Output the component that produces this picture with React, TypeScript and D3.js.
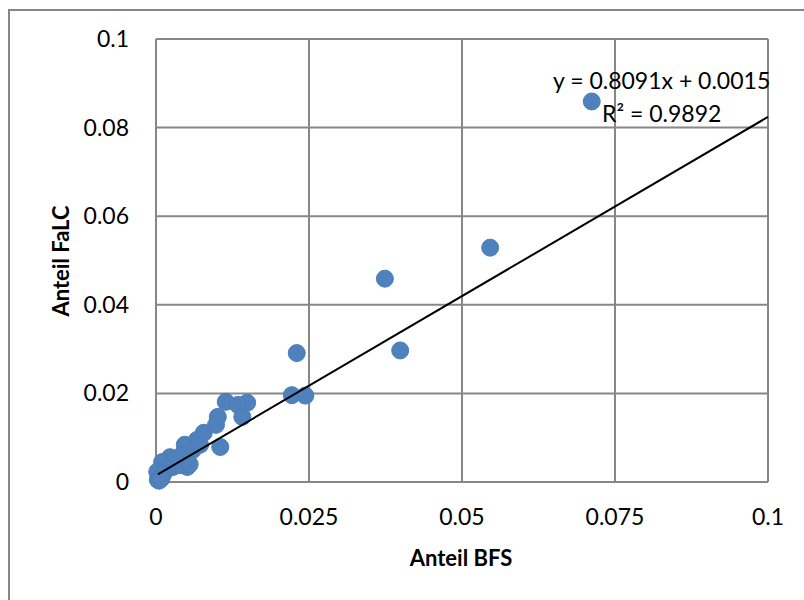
import React from "react";
import * as d3 from "d3";

const bfs = [
  0.0712, 0.0546, 0.0374, 0.0399, 0.0230, 0.0222, 0.0244,
  0.0114, 0.0149, 0.0134, 0.0141, 0.0101, 0.0098, 0.0078, 0.0105, 0.0067,
  0.0047, 0.0060, 0.0051, 0.0023, 0.0010, 0.0028, 0.0003, 0.0002, 0.0007,
  0.0015, 0.0036, 0.0042, 0.0072, 0.0039, 0.0055, 0.0031, 0.0019, 0.0012,
  0.0005, 0.0009,
];
const falc = [
  0.0859, 0.0529, 0.0459, 0.0297, 0.0291, 0.0196, 0.0195,
  0.0181, 0.0179, 0.0174, 0.0147, 0.0147, 0.0129, 0.0111, 0.0079, 0.0095,
  0.0084, 0.0072, 0.0034, 0.0056, 0.0045, 0.0034, 0.0005, 0.0023, 0.0011,
  0.0027, 0.0045, 0.0061, 0.0084, 0.0038, 0.0040, 0.0050, 0.0030, 0.0018,
  0.0003, 0.0008,
];
const xTicks = [0, 0.025, 0.05, 0.075, 0.1];
const xTickLabels = ["0", "0.025", "0.05", "0.075", "0.1"];
const yTicks = [0, 0.02, 0.04, 0.06, 0.08, 0.1];
const yTickLabels = ["0", "0.02", "0.04", "0.06", "0.08", "0.1"];
const slope = 0.8091;
const intercept = 0.0015;
const eqLabel = "y = 0.8091x + 0.0015";
const r2Label = "R² = 0.9892";
const xTitle = "Anteil BFS";
const yTitle = "Anteil FaLC";

export default function App() {
  const x = d3.scaleLinear().domain([0, 0.1]).range([156, 768]);
  const y = d3.scaleLinear().domain([0, 0.1]).range([482, 39]);
  const grid = "#878787";
  const font = "Lato, 'Open Sans', sans-serif";
  const line = d3.line<number>().x((d) => x(d)).y((d) => y(slope * d + intercept));
  const pts = bfs.map((b, i) => ({ b, f: falc[i] }));
  return (
    <svg
      width={804}
      height={600}
      style={{ position: "absolute", left: 0, top: 0, background: "#fff" }}
    >
      <rect x={9} y={10} width={820} height={620} fill="#fff" stroke={grid} strokeWidth={2} />
      {yTicks.map((t) => (
        <line key={"h" + t} x1={x(0)} x2={x(0.1)} y1={y(t)} y2={y(t)} stroke={grid} strokeWidth={2} />
      ))}
      {xTicks.map((t) => (
        <line key={"v" + t} x1={x(t)} x2={x(t)} y1={y(0.1)} y2={y(0)} stroke={grid} strokeWidth={2} />
      ))}
      {yTicks.map((t, i) => (
        <text key={"yl" + t} x={129} y={y(t)} dy="0.35em" textAnchor="end" fontFamily={font} fontSize={23} fill="#000">
          {yTickLabels[i]}
        </text>
      ))}
      {xTicks.map((t, i) => (
        <text key={"xl" + t} x={x(t)} y={517} dy="0.35em" textAnchor="middle" fontFamily={font} fontSize={23} fill="#000">
          {xTickLabels[i]}
        </text>
      ))}
      <text x={461} y={558} dy="0.35em" textAnchor="middle" fontFamily={font} fontSize={22} fontWeight="bold" fill="#000">
        {xTitle}
      </text>
      <text
        transform="translate(61,261) rotate(-90)"
        dy="0.35em"
        textAnchor="middle"
        fontFamily={font}
        fontSize={22}
        fontWeight="bold"
        fill="#000"
      >
        {yTitle}
      </text>
      {pts.map((p, i) => (
        <circle key={i} cx={x(p.b)} cy={y(p.f)} r={8.5} fill="#4f81bd" stroke="#4a7dba" strokeWidth={1} />
      ))}
      <path d={line([0.0003, 0.1]) || ""} stroke="#000" strokeWidth={2} fill="none" />
      <text x={553} y={89} fontFamily={font} fontSize={23} fill="#000">
        {eqLabel}
      </text>
      <text x={602} y={122} fontFamily={font} fontSize={23} fill="#000">
        {r2Label}
      </text>
    </svg>
  );
}
